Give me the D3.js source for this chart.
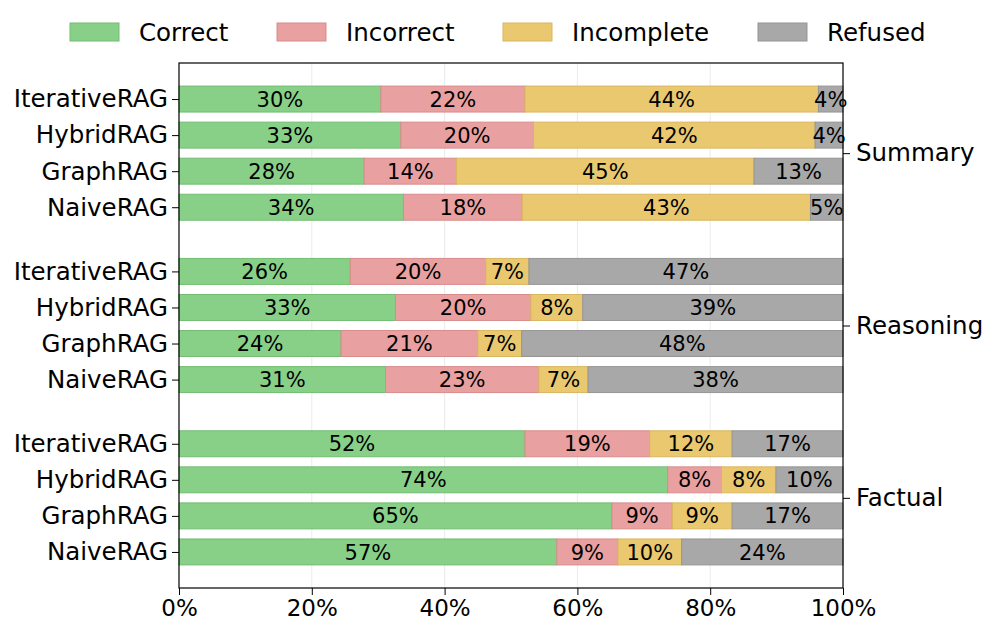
<!DOCTYPE html>
<html>
<head>
<meta charset="utf-8">
<script src="https://cdn.jsdelivr.net/npm/d3@7"></script>
<style>
  body { margin: 0; background: #fff; }
  svg text { font-family: "DejaVu Sans", sans-serif; fill: #000; }
</style>
</head>
<body>
<div id="chart"></div>
<script>
const categories = ['Correct', 'Incorrect', 'Incomplete', 'Refused']
const groups = ['Summary', 'Reasoning', 'Factual']
const methods = ['IterativeRAG', 'HybridRAG', 'GraphRAG', 'NaiveRAG']
// percent per method, order of `methods`, for each group
const correct = [
  [30.4, 33.4, 27.9, 33.8],
  [25.8, 32.6, 24.4, 31.1],
  [52.1, 73.6, 65.2, 56.9]
]
const incorrect = [
  [21.7, 20.0, 13.9, 17.9],
  [20.4, 20.4, 20.6, 23.1],
  [18.8, 8.1, 9.1, 9.2]
]
const incomplete = [
  [44.2, 42.4, 44.8, 43.4],
  [6.5, 7.8, 6.6, 7.4],
  [12.4, 8.2, 9.0, 9.6]
]
const refused = [
  [3.7, 4.2, 13.4, 4.9],
  [47.3, 39.2, 48.4, 38.4],
  [16.7, 10.1, 16.7, 24.3]
]
const xTicks = [0, 20, 40, 60, 80, 100]

const colors = ['#88d088', '#e9a0a0', '#e9c870', '#a8a8a8']
const edges = ['#72bd72', '#d98c8c', '#d9b75e', '#959595']

const width = 996, height = 637
const margin = { top: 63, left: 179, right: 153, bottom: 49 }
const innerW = width - margin.left - margin.right
const innerH = height - margin.top - margin.bottom
const groupStep = 4.78

let rows = []
groups.forEach((g, gi) => {
  methods.forEach((m, mi) => {
    let vals = [correct[gi][mi], incorrect[gi][mi], incomplete[gi][mi], refused[gi][mi]]
    let acc = 0
    let segs = vals.map((v, ci) => {
      let s = { x0: acc, x1: acc + v, value: v, cat: ci }
      acc += v
      return s
    })
    rows.push({ group: g, method: m, pos: gi * groupStep + mi, segs: segs })
  })
})

const x = d3.scaleLinear().domain([0, 100]).range([0, innerW])
const y = d3.scaleLinear().domain([-1, 2 * groupStep + 3 + 1]).range([0, innerH])
const barH = (y(1) - y(0)) * 0.72

const svg = d3.select('#chart').append('svg')
  .attr('width', width).attr('height', height)
const g = svg.append('g').attr('transform', `translate(${margin.left},${margin.top})`)

// grid
g.selectAll('.grid').data(xTicks.slice(1, -1)).enter().append('line')
  .attr('x1', d => x(d)).attr('x2', d => x(d))
  .attr('y1', 0).attr('y2', innerH)
  .attr('stroke', '#ebebeb').attr('stroke-width', 1)

// bars
let rowG = g.selectAll('.row').data(rows).enter().append('g')
  .attr('transform', d => `translate(0,${y(d.pos)})`)
rowG.selectAll('rect').data(d => d.segs).enter().append('rect')
  .attr('x', d => x(d.x0))
  .attr('y', -barH / 2)
  .attr('width', d => x(d.x1) - x(d.x0))
  .attr('height', barH)
  .attr('fill', d => colors[d.cat])
  .attr('stroke', d => edges[d.cat])
  .attr('stroke-width', 1)
rowG.selectAll('text').data(d => d.segs).enter().append('text')
  .attr('x', d => x((d.x0 + d.x1) / 2))
  .attr('y', 0)
  .attr('dy', '0.36em')
  .attr('text-anchor', 'middle')
  .style('font-size', '21px')
  .text(d => Math.round(d.value) + '%')

// left axis: methods
const yAxis = d3.axisLeft(y).tickValues(rows.map(r => r.pos))
  .tickFormat((d, i) => rows[i].method).tickSize(7).tickPadding(4)
g.append('g').call(yAxis)
  .call(a => a.select('.domain').remove())
  .call(a => a.selectAll('text').style('font-size', '24.5px'))

// right axis: groups
const groupPos = groups.map((d, gi) => gi * groupStep + 1.5)
const rAxis = d3.axisRight(y).tickValues(groupPos)
  .tickFormat((d, i) => groups[i]).tickSize(7).tickPadding(6)
g.append('g').attr('transform', `translate(${innerW},0)`).call(rAxis)
  .call(a => a.select('.domain').remove())
  .call(a => a.selectAll('text').style('font-size', '24.5px'))

// bottom axis
const xAxis = d3.axisBottom(x).tickValues(xTicks).tickFormat(d => d + '%').tickSize(7).tickPadding(5)
g.append('g').attr('transform', `translate(0,${innerH})`).call(xAxis)
  .call(a => a.select('.domain').remove())
  .call(a => a.selectAll('text').style('font-size', '23px'))

// frame
g.append('rect').attr('width', innerW).attr('height', innerH)
  .attr('fill', 'none').attr('stroke', '#000').attr('stroke-width', 1.2)

// legend
const legendX = [70, 277, 503, 758]
const leg = svg.append('g').selectAll('g').data(categories).enter().append('g')
  .attr('transform', (d, i) => `translate(${legendX[i]},23)`)
leg.append('rect').attr('width', 49).attr('height', 18)
  .attr('fill', (d, i) => colors[i]).attr('stroke', (d, i) => edges[i])
leg.append('text').attr('x', 69).attr('y', 9).attr('dy', '0.36em')
  .style('font-size', '24.5px').text(d => d)
</script>
</body>
</html>
